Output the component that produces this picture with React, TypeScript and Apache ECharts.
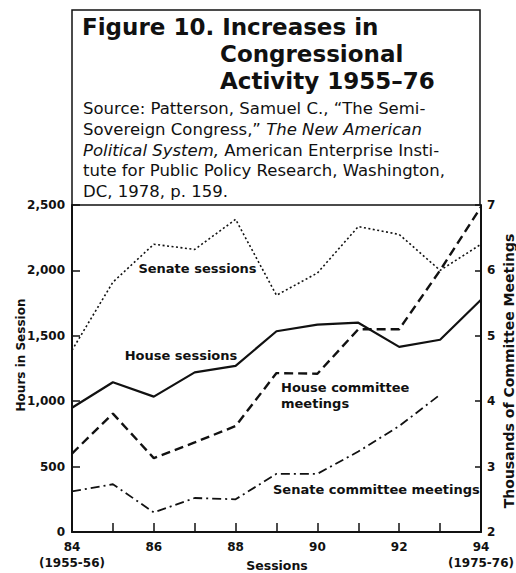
import React, { useEffect, useRef } from "react";
import * as echarts from "echarts";

// ---- data ----
const sessions = [84, 85, 86, 87, 88, 89, 90, 91, 92, 93, 94];
const senateSessionsHours = [1390, 1910, 2200, 2160, 2390, 1810, 1980, 2335, 2275, 2000, 2200];
const houseSessionsHours = [950, 1145, 1035, 1220, 1270, 1535, 1585, 1600, 1415, 1470, 1775];
const houseCommitteeThousands = [3.2, 3.81, 3.13, 3.37, 3.62, 4.43, 4.42, 5.1, 5.1, 6.0, 6.97];
const senateCommitteeThousands = [2.62, 2.73, 2.3, 2.52, 2.5, 2.89, 2.89, 3.23, 3.62, 4.1];

const xTickLabels: Record<number, string> = {
  84: "84\n(1955-56)",
  86: "86",
  88: "88",
  90: "90",
  92: "92",
  94: "94\n(1975-76)",
};

const titleLines = ["Figure 10. Increases in", "Congressional", "Activity 1955–76"];
const sourceLines = [
  "Source: Patterson, Samuel C., “The Semi-",
  "Sovereign Congress,” {i|The New American}",
  "{i|Political System,} American Enterprise Insti-",
  "tute for Public Policy Research, Washington,",
  "DC, 1978, p. 159.",
];

const INK = "#111";
const LABEL_FONT = "DejaVu Sans";

function pairs(xs: number[], ys: number[]) {
  return ys.map((y, i) => [xs[i], y]);
}

export default function App() {
  const ref = useRef<HTMLDivElement>(null);

  useEffect(() => {
    if (!ref.current) return;
    const chart = echarts.init(ref.current, null, { renderer: "svg" });

    const labelStyle = {
      fontFamily: LABEL_FONT,
      fontWeight: "bold" as const,
      fontSize: 13,
      fill: INK,
    };

    const titleStyle = {
      fontFamily: LABEL_FONT,
      fontWeight: "bold" as const,
      fontSize: 23,
      fill: INK,
      align: "left" as const,
      verticalAlign: "middle" as const,
    };

    const graphics: any[] = [
      {
        type: "rect",
        shape: { x: 72, y: 10, width: 408, height: 195 },
        style: { fill: "none", stroke: INK, lineWidth: 1.5 },
        silent: true,
      },
      { type: "text", x: 82, y: 27, style: { ...titleStyle, text: titleLines[0] } },
      { type: "text", x: 220, y: 54, style: { ...titleStyle, text: titleLines[1] } },
      { type: "text", x: 220, y: 81, style: { ...titleStyle, text: titleLines[2] } },
      ...sourceLines.map((t, i) => ({
        type: "text",
        x: 83,
        y: 108.5 + 20.75 * i,
        style: {
          text: t,
          fontFamily: LABEL_FONT,
          fontSize: 16.5,
          fill: INK,
          align: "left",
          verticalAlign: "middle",
          rich: {
            i: {
              fontFamily: LABEL_FONT,
              fontSize: 16.5,
              fontStyle: "italic",
              fill: INK,
            },
          },
        },
      })),
      // axis names
      {
        type: "text",
        x: 20.5,
        y: 355,
        rotation: Math.PI / 2,
        style: { ...labelStyle, fontSize: 12, text: "Hours in Session", align: "center", verticalAlign: "middle" },
      },
      {
        type: "text",
        x: 509,
        y: 371,
        rotation: Math.PI / 2,
        style: {
          ...labelStyle,
          fontSize: 14,
          text: "Thousands of Committee Meetings",
          align: "center",
          verticalAlign: "middle",
        },
      },
      {
        type: "text",
        x: 277,
        y: 565,
        style: { ...labelStyle, fontSize: 12.5, text: "Sessions", align: "center", verticalAlign: "middle" },
      },
      // series labels
      {
        type: "text",
        x: 197.5,
        y: 268,
        style: { ...labelStyle, text: "Senate sessions", align: "center", verticalAlign: "middle" },
      },
      {
        type: "text",
        x: 181,
        y: 355,
        style: { ...labelStyle, text: "House sessions", align: "center", verticalAlign: "middle" },
      },
      {
        type: "text",
        x: 281,
        y: 387,
        style: { ...labelStyle, text: "House committee", align: "left", verticalAlign: "middle" },
      },
      {
        type: "text",
        x: 281,
        y: 403,
        style: { ...labelStyle, text: "meetings", align: "left", verticalAlign: "middle" },
      },
      {
        type: "text",
        x: 273,
        y: 489,
        style: { ...labelStyle, text: "Senate committee meetings", align: "left", verticalAlign: "middle" },
      },
    ];

    const axisLabelBase = {
      fontFamily: LABEL_FONT,
      fontWeight: "bold" as const,
      fontSize: 12,
      color: INK,
    };

    chart.setOption({
      animation: false,
      backgroundColor: "#fff",
      grid: {
        left: 72,
        right: 35,
        top: 205,
        bottom: 41,
        containLabel: false,
        outerBoundsMode: "none",
      },
      xAxis: {
        type: "value",
        min: 84,
        max: 94,
        interval: 1,
        axisLine: { lineStyle: { color: INK, width: 2 } },
        axisTick: { inside: true, length: 9, lineStyle: { color: INK, width: 1.5 } },
        splitLine: { show: false },
        axisLabel: {
          ...axisLabelBase,
          margin: 7,
          lineHeight: 16,
          showMinLabel: true,
          showMaxLabel: true,
          formatter: (v: number) => xTickLabels[v] ?? "",
        },
      },
      yAxis: [
        {
          type: "value",
          min: 0,
          max: 2500,
          interval: 500,
          position: "left",
          axisLine: { show: true, lineStyle: { color: INK, width: 2 } },
          axisTick: { show: true, inside: true, length: 8, lineStyle: { color: INK, width: 1.5 } },
          splitLine: { show: false },
          axisLabel: {
            ...axisLabelBase,
            margin: 7,
            formatter: (v: number) => v.toLocaleString("en-US"),
          },
        },
        {
          type: "value",
          min: 2,
          max: 7,
          interval: 1,
          position: "right",
          axisLine: { show: true, lineStyle: { color: INK, width: 2 } },
          axisTick: { show: true, inside: true, length: 6, lineStyle: { color: INK, width: 1.5 } },
          splitLine: { show: false },
          axisLabel: { ...axisLabelBase, margin: 6 },
        },
      ],
      series: [
        {
          name: "Senate sessions",
          type: "line",
          yAxisIndex: 0,
          data: pairs(sessions, senateSessionsHours),
          symbol: "none",
          silent: true,
          lineStyle: { color: INK, width: 1.6, type: [2, 2.5] },
        },
        {
          name: "House sessions",
          type: "line",
          yAxisIndex: 0,
          data: pairs(sessions, houseSessionsHours),
          symbol: "none",
          silent: true,
          lineStyle: { color: INK, width: 2.2, type: "solid" },
        },
        {
          name: "House committee meetings",
          type: "line",
          yAxisIndex: 1,
          data: pairs(sessions, houseCommitteeThousands),
          symbol: "none",
          silent: true,
          lineStyle: { color: INK, width: 2.4, type: [9, 5] },
        },
        {
          name: "Senate committee meetings",
          type: "line",
          yAxisIndex: 1,
          data: pairs(sessions, senateCommitteeThousands),
          symbol: "none",
          silent: true,
          lineStyle: { color: INK, width: 1.8, type: [9, 4, 2, 4] },
        },
      ],
      graphic: graphics,
    });

    return () => chart.dispose();
  }, []);

  return (
    <div
      ref={ref}
      style={{ position: "fixed", left: 0, top: 0, width: 516, height: 573, background: "#fff" }}
    />
  );
}
